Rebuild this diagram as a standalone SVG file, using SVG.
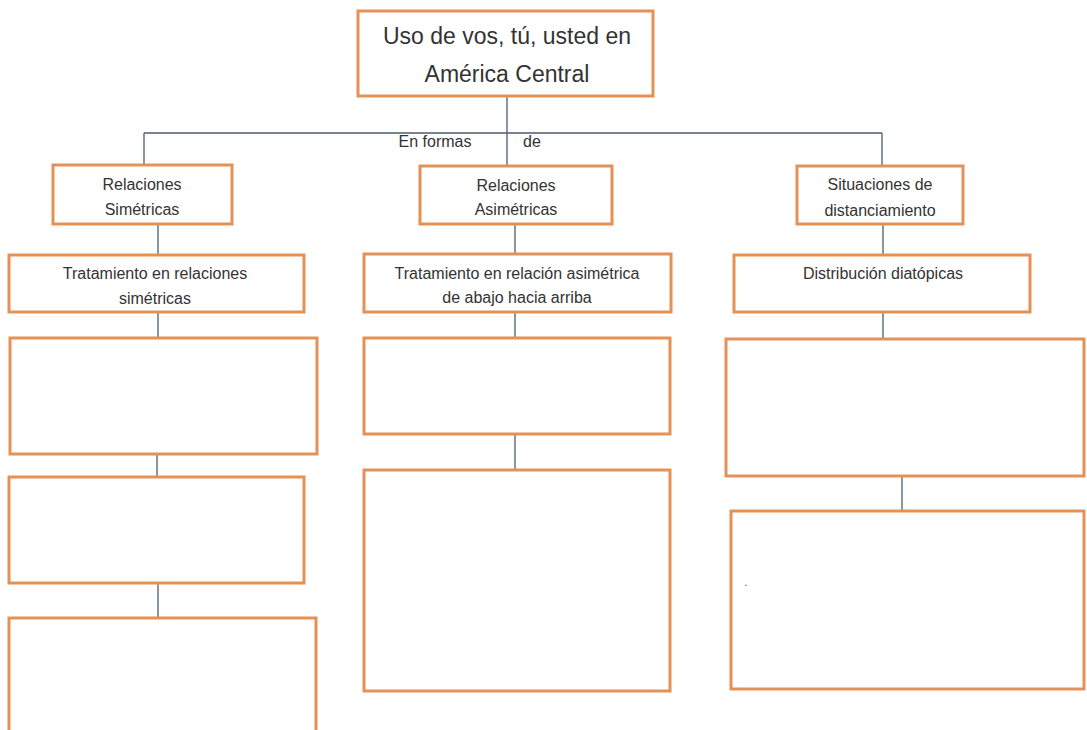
<svg xmlns="http://www.w3.org/2000/svg" width="1087" height="730" viewBox="0 0 1087 730">
<style>
.box{fill:#ffffff;stroke:#E39155;stroke-width:3}
.t{font-family:"Liberation Sans",Arial,sans-serif;font-size:16px;fill:#333333;text-anchor:middle}
.title{font-size:23px}
.c{fill:none;stroke:#4A5E72;stroke-width:1.3}
</style>
<rect width="1087" height="730" fill="#ffffff"/>
<g id="connectors">
<path class="c" d="M507,96 V166 M144,133 H882 M144,133 V165 M882,133 V166"/>
<path class="c" d="M158,224 V255 M515,224 V254 M883,224 V255"/>
<path class="c" d="M158,312 V338 M515,312 V338 M883,312 V339"/>
<path class="c" d="M157,454 V477 M515,434 V477 M902,476 V511 M158,583 V618"/>
</g>
<g id="root">
<rect class="box" x="358" y="11" width="295" height="85"/>
<text class="t title" x="507" y="44">Uso de vos, tú, usted en</text>
<text class="t title" x="507" y="82">América Central</text>
</g>
<g id="label-en-formas-de">
<text class="t" x="435" y="147">En formas</text>
<text class="t" x="532" y="147">de</text>
</g>
<g id="rel-simetricas">
<rect class="box" x="53" y="165" width="179" height="59"/>
<text class="t" x="142" y="190">Relaciones</text>
<text class="t" x="142" y="215">Simétricas</text>
</g>
<g id="rel-asimetricas">
<rect class="box" x="420" y="166" width="192" height="58"/>
<text class="t" x="516" y="191">Relaciones</text>
<text class="t" x="516" y="215">Asimétricas</text>
</g>
<g id="distanciamiento">
<rect class="box" x="797" y="166" width="166" height="58"/>
<text class="t" x="880" y="190">Situaciones de</text>
<text class="t" x="880" y="216">distanciamiento</text>
</g>
<g id="trat-simetricas">
<rect class="box" x="9" y="255" width="295" height="57"/>
<text class="t" x="155" y="279">Tratamiento en relaciones</text>
<text class="t" x="155" y="304">simétricas</text>
</g>
<g id="trat-asimetrica">
<rect class="box" x="364" y="254" width="307" height="58"/>
<text class="t" x="517" y="279">Tratamiento en relación asimétrica</text>
<text class="t" x="517" y="303">de abajo hacia arriba</text>
</g>
<g id="distribucion">
<rect class="box" x="734" y="255" width="296" height="57"/>
<text class="t" x="883" y="279">Distribución diatópicas</text>
</g>
<g id="left-1"><rect class="box" x="10" y="338" width="307" height="116"/></g>
<g id="left-2"><rect class="box" x="9" y="477" width="295" height="106"/></g>
<g id="left-3"><rect class="box" x="9" y="618" width="307" height="117"/></g>
<g id="mid-1"><rect class="box" x="364" y="338" width="306" height="96"/></g>
<g id="mid-2"><rect class="box" x="364" y="470" width="306" height="221"/></g>
<g id="right-1"><rect class="box" x="726" y="339" width="358" height="137"/></g>
<g id="right-2">
<rect class="box" x="731" y="511" width="353" height="178"/>
<text class="t" x="746" y="586" style="font-size:10px">.</text>
</g>
</svg>
